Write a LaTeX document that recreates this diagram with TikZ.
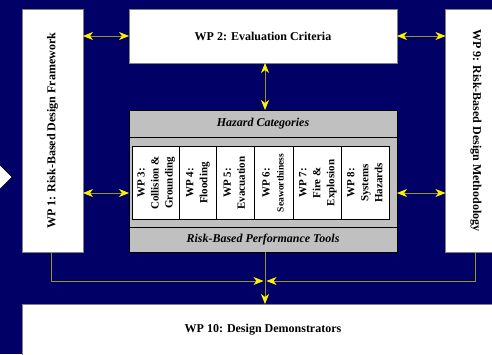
\documentclass[tikz,border=0pt]{standalone}
\usepackage{fontspec}
\setmainfont{Liberation Serif}
\usepackage{xcolor}
\usetikzlibrary{arrows.meta}
\usetikzlibrary{positioning}
\definecolor{navy}{RGB}{0,0,102}
\definecolor{panelgray}{RGB}{192,192,192}
\definecolor{olive}{RGB}{150,150,40}

\begin{document}
\begin{tikzpicture}[x=1pt, y=-1pt, node distance = 0pt,
		wpbox/.style = {draw=gray, fill=white, inner sep=0pt, outer sep=0pt, font=\bfseries\fontsize{12}{14}\selectfont},
		band/.style = {draw=black, fill=panelgray, inner sep=0pt, outer sep=0pt, minimum width=268pt, font=\bfseries\itshape\fontsize{12}{14}\selectfont},
		hazbox/.style = {draw=black, fill=white, inner sep=0pt, outer sep=0pt, minimum height=73pt, font=\bfseries\fontsize{11}{14}\selectfont},
		ylink/.style = {olive, line width=0.8pt},
		yarrow/.style = {-{Stealth[length=10pt, width=8pt, inset=3pt, color=yellow]}},
		yarrows/.style = {{Stealth[length=10pt, width=8pt, inset=3pt, color=yellow]}-{Stealth[length=10pt, width=8pt, inset=3pt, color=yellow]}}]
		\useasboundingbox (0,0) rectangle (492,354);
		\fill[navy] (0,0) rectangle (492,354);
		\draw[black, fill=white] (-2,163) -- (12,177) -- (-2,191);

		% outer work packages
		\node[wpbox, minimum width=61pt, minimum height=243pt] (wp1) at (52.5,130.5) {\rotatebox{90}{WP 1: Risk-Based Design Framework}};
		\node[wpbox, minimum width=268pt, minimum height=54pt] (wp2) at (263,36) {WP 2: Evaluation Criteria};
		\node[wpbox, minimum width=61pt, minimum height=243pt] (wp9) at (476,130.5) {\rotatebox{-90}{WP 9: Risk-Based Design Methodology}};
		\node[wpbox, minimum width=482pt, minimum height=52pt] (wp10) at (263,330) {WP 10: Design Demonstrators};

		% hazard panel
		\node[band, minimum height=142pt] (panel) at (263,181) {};
		\node[band, minimum height=27pt] (hazard) at (263,123.5) {Hazard Categories};
		\node[band, minimum height=25pt] (tools) at (263,239.5) {Risk-Based Performance Tools};
		\node[hazbox, minimum width=47.5pt, anchor=west] (wp3) at (132,183) {\rotatebox{90}{\begin{tabular}{@{}c@{}}
			WP 3:\\ Collision \&\\ Grounding
		\end{tabular}}};
		\node[hazbox, minimum width=36.3pt, right = of wp3] (wp4) {\rotatebox{90}{\begin{tabular}{@{}c@{}}
			WP 4:\\ Flooding
		\end{tabular}}};
		\node[hazbox, minimum width=38.3pt, right = of wp4] (wp5) {\rotatebox{90}{\begin{tabular}{@{}c@{}}
			WP 5:\\ Evacuation
		\end{tabular}}};
		\node[hazbox, minimum width=39.4pt, right = of wp5] (wp6) {\rotatebox{90}{\begin{tabular}{@{}c@{}}
			WP 6:\\ {\fontsize{9.5}{14}\selectfont Seaworthiness}
		\end{tabular}}};
		\node[hazbox, minimum width=48pt, right = of wp6] (wp7) {\rotatebox{90}{\begin{tabular}{@{}c@{}}
			WP 7:\\ Fire \&\\ Explosion
		\end{tabular}}};
		\node[hazbox, minimum width=48pt, right = of wp7] (wp8) {\rotatebox{90}{\begin{tabular}{@{}c@{}}
			WP 8:\\ Systems\\ Hazards
		\end{tabular}}};

		% links
		\coordinate (mid) at (263,193);
		\coordinate (join) at (265,281);
		\draw[ylink, yarrows] (wp1.east |- wp2.west) -- (wp2.west);
		\draw[ylink, yarrows] (wp2.east) -- (wp9.west |- wp2.east);
		\draw[ylink, yarrows] (wp2.south -| join) -- (panel.north -| join);
		\draw[ylink, yarrows] (wp1.east |- mid) -- (panel.west |- mid);
		\draw[ylink, yarrows] (panel.east |- mid) -- (wp9.west |- mid);
		\draw[ylink, yarrow] ([xshift=-1.5pt]wp1.south) |- ([xshift=-1.5pt]join);
		\draw[ylink, yarrow] ([xshift=-1pt]wp9.south) |- ([xshift=1.5pt]join);
		\draw[ylink, yarrow] (panel.south -| join) -- (wp10.north -| join);
\end{tikzpicture}
\end{document}
